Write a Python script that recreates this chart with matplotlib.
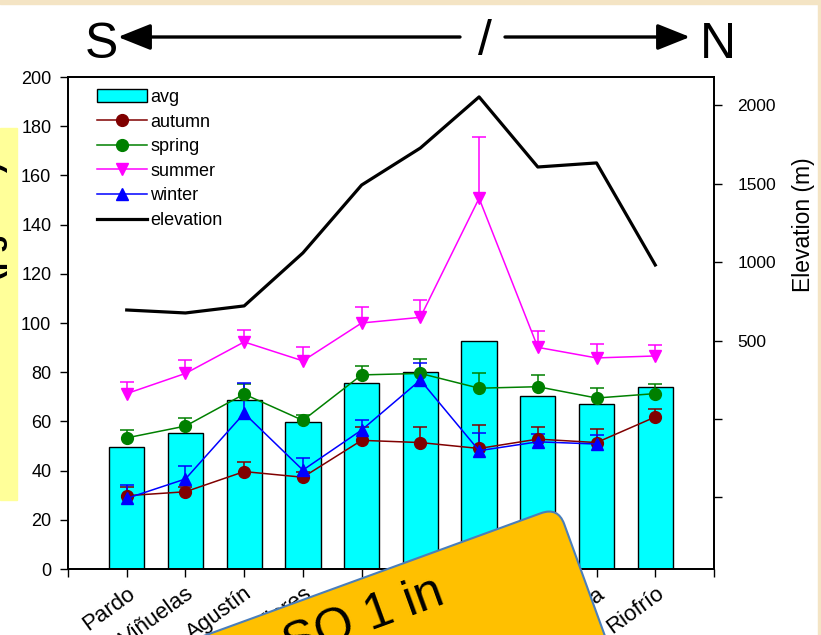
import numpy as np
import matplotlib
matplotlib.use("Agg")
import matplotlib.pyplot as plt
from matplotlib import patches as mpatches
from matplotlib import transforms as mtransforms

plt.rcParams['font.family'] = ['Liberation Sans', 'DejaVu Sans']

# Sites ordered from south to north
sites = ["Pardo", "Viñuelas", "Agustín", "Miraflores", "Canencia",
         "Morcuera", "Peñalara", "Cotos", "Navafría", "Riofrío"]

avg = [49.7, 55.4, 68.7, 59.6, 75.6, 80.0, 92.8, 70.3, 67.0, 74.0]

autumn = [29.8, 31.4, 39.6, 37.3, 52.3, 51.4, 49.0, 52.8, 51.4, 61.8]
autumn_err = [3.7, 2.0, 3.9, 2.0, 5.4, 6.3, 9.6, 4.9, 5.4, 3.4]

spring = [53.3, 58.1, 71.1, 60.4, 78.9, 79.5, 73.5, 74.1, 69.5, 71.3]
spring_err = [3.1, 3.1, 4.0, 2.2, 3.8, 5.7, 6.0, 4.8, 3.9, 3.9]

summer = [71.3, 79.5, 92.3, 84.6, 100.0, 102.3, 150.7, 90.1, 85.8, 86.6]
summer_err = [4.7, 5.3, 4.9, 5.6, 6.5, 7.0, 24.9, 6.6, 5.7, 4.5]

winter = [28.7, 36.6, 63.3, 40.2, 56.5, 76.8, 48.1, 51.7, 50.8, np.nan]
winter_err = [5.4, 5.3, 12.4, 4.8, 4.1, 7.0, 7.0, 3.0, 3.8, np.nan]

elevation = [695, 676, 721, 1059, 1492, 1728, 2054, 1607, 1633, 982]

W, H = 821, 635
fig = plt.figure(figsize=(W / 100, H / 100), dpi=100)
fig.patch.set_facecolor('white')


def fx(px):
    return px / W


def fy(py):
    return 1 - py / H


# pixel coordinates (y up) for the slide decorations
px_trans = mtransforms.Affine2D().scale(1 / fig.dpi) + fig.dpi_scale_trans

ax = fig.add_axes([fx(68), fy(569), (714 - 68) / W, (569 - 77) / H])
x = np.arange(1, len(sites) + 1)

bars = ax.bar(x, avg, width=0.6, color='#00FFFF', edgecolor='black',
              linewidth=1.0, label='avg', zorder=2)

series = [
    (autumn, autumn_err, '#800000', 'o', 'autumn'),
    (spring, spring_err, '#008000', 'o', 'spring'),
    (summer, summer_err, '#FF00FF', 'v', 'summer'),
    (winter, winter_err, '#0000FF', '^', 'winter'),
]

handles = [bars]
for vals, errs, col, mk, name in series:
    vals = np.asarray(vals, dtype=float)
    errs = np.asarray(errs, dtype=float)
    eb = ax.errorbar(x, vals, yerr=[np.zeros_like(errs), errs], fmt='none',
                     ecolor=col, elinewidth=1.1, capsize=5, capthick=1.1,
                     zorder=3)
    # keep only the upper caps
    eb[1][0].set_visible(False)
    ln, = ax.plot(x, vals, color=col, marker=mk, markersize=8.5, lw=1.1,
                  markeredgecolor=col, label=name, zorder=4)
    handles.append(ln)

ax.set_xlim(0, 11)
ax.set_ylim(0, 200)
ax.set_xticks(np.arange(0, 12))
ax.set_xticklabels([''] + sites + [''], rotation=36, ha='right',
                   rotation_mode='anchor', fontsize=16)
ax.set_yticks(np.arange(0, 201, 20))
ax.tick_params(axis='both', direction='out', length=6, width=1.0,
               color='black')
ax.tick_params(axis='y', pad=6, labelsize=13)
ax.tick_params(axis='x', pad=4)
for sp in ax.spines.values():
    sp.set_linewidth(1.3)

ax2 = ax.twinx()
elev_line, = ax2.plot(x, elevation, color='black', lw=2.3, label='elevation',
                      zorder=5)
ax2.set_ylim(-957, 2181)
ax2.set_yticks([-500, 0, 500, 1000, 1500, 2000])
ax2.set_yticklabels(['', '', '500', '1000', '1500', '2000'])
ax2.tick_params(axis='y', direction='out', length=6, width=1.0,
                labelsize=12.5, pad=11)
for sp in ax2.spines.values():
    sp.set_linewidth(1.3)
handles.append(elev_line)

ax2.legend(handles, [h.get_label() for h in handles], loc='upper left',
           bbox_to_anchor=(29 / 646, 1 - 12 / 492), frameon=False,
           fontsize=13, handlelength=2.75, handletextpad=0.2,
           labelspacing=0.42, borderaxespad=0, borderpad=0)

fig.text(fx(803), fy(225), 'Elevation (m)', rotation=90, ha='center',
         va='center', fontsize=16.5)

# direction header
fig.text(fx(85), fy(58), 'S', fontsize=36, ha='left', va='baseline')
fig.text(fx(700), fy(58), 'N', fontsize=36, ha='left', va='baseline')
fig.text(fx(485), fy(55), '/', fontsize=36, ha='center', va='baseline')
for tail, tip in [((460, 37), (118, 37)), ((505, 37), (690, 37))]:
    fig.add_artist(mpatches.FancyArrowPatch(
        (fx(tail[0]), fy(tail[1])), (fx(tip[0]), fy(tip[1])),
        transform=fig.transFigure,
        arrowstyle='-|>,head_length=1.0,head_width=0.4', mutation_scale=20,
        color='black', lw=2.4, shrinkA=0, shrinkB=0))

# slide border
fig.add_artist(mpatches.Rectangle((0, fy(4)), 1, 4 / H,
                                  transform=fig.transFigure,
                                  color='#F4E4C4', zorder=1))
fig.add_artist(mpatches.Rectangle((fx(818), 0), 3 / W, 1,
                                  transform=fig.transFigure,
                                  color='#F4E4C4', zorder=1))

# yellow side label
fig.add_artist(mpatches.Rectangle((0, fy(500)), fx(17), (500 - 128) / H,
                                  transform=fig.transFigure,
                                  color='#FFFF99', zorder=1))
fig.text(fx(8), fy(272), 'Ozone (µg m⁻³)', rotation=90, ha='right',
         va='center', fontsize=22, fontweight='bold', zorder=2)

# rotated callout box
ang = 20
corner = mtransforms.Affine2D().rotate_deg(ang).translate(558, H - 507)
box = mpatches.FancyBboxPatch((-600, -300), 600, 300,
                              boxstyle='round,pad=0,rounding_size=18',
                              transform=corner + px_trans,
                              facecolor='#FFC000', edgecolor='#4A7EBB',
                              lw=1.5, zorder=20)
fig.add_artist(box)
fig.text(447, H - 603, 'SO 1 in', transform=px_trans, rotation=ang,
         rotation_mode='anchor', ha='right', va='baseline', fontsize=36,
         zorder=21)

fig.savefig('out.png', dpi=100)
